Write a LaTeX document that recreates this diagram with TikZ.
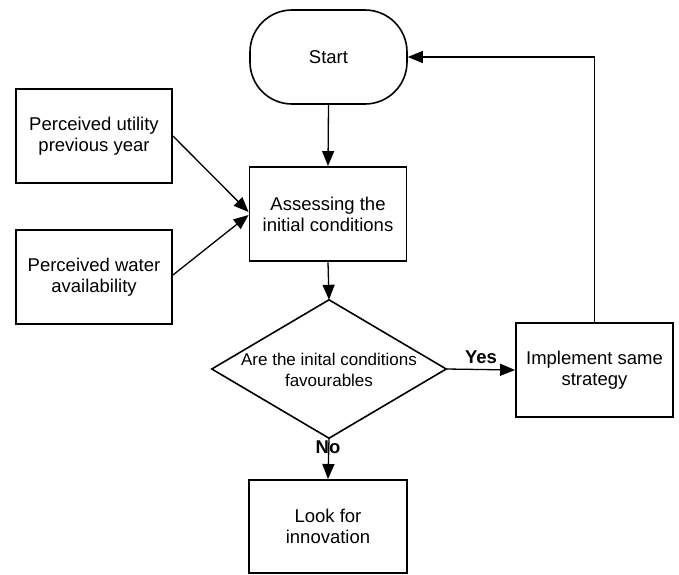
\documentclass[tikz,border=0pt]{standalone}
\usepackage{fontspec}
\setmainfont{Liberation Sans}
\usetikzlibrary{arrows.meta}
\begin{document}
\begin{tikzpicture}[x=1pt,y=-1pt,
  every node/.style={font=\fontsize{18.5}{21}\selectfont, align=center, inner sep=0pt},
  box/.style={draw, line width=1.9pt, minimum width=157pt, minimum height=94pt},
  startbox/.style={draw, line width=1.6pt, rounded corners=42pt, minimum width=157pt, minimum height=94pt},
  conn/.style={line width=1.3pt, -{Triangle[length=15pt,width=12pt]}},
  lbl/.style={font=\fontsize{18.5}{22}\selectfont\bfseries}]
\useasboundingbox (0,0) rectangle (679,574);
\node[startbox] (start) at (328.5,57) {Start};
\node[box, minimum width=156pt] (util) at (94,136) {Perceived utility\\previous year};
\node[box] (assess) at (328,214) {Assessing the\\initial conditions};
\node[box, minimum width=156pt] (water) at (94,277) {Perceived water\\availability};
\node[minimum width=234pt, minimum height=138pt] (dec) at (329,369) {};
\draw[line width=1.6pt, line join=miter] (dec.north) -- (dec.east) -- (dec.south) -- (dec.west) -- cycle;
\node[font=\fontsize{17}{20.5}\selectfont] (dectext) at (329,370) {Are the inital conditions\\favourables};
\node[box] (impl) at (594.5,370) {Implement same\\strategy};
\node[box, minimum width=158pt, minimum height=93pt] (look) at (328,526.5) {Look for\\innovation};
\draw[conn] (start.south) -- (assess.north);
\draw[conn] (util.east) -- ([yshift=2pt]assess.west);
\draw[conn] ([yshift=2pt]water.east) -- ([yshift=-1pt]assess.west);
\draw[conn] (assess.south) -- (dec.north);
\draw[conn] (dec.east) -- (impl.west);
\draw[conn] (dec.south) -- (look.north);
\draw[conn] (impl.north) |- (start.east);
\node[lbl] (yes) at (481,357) {Yes};
\node[lbl] (no) at (328,447) {No};
\end{tikzpicture}
\end{document}
